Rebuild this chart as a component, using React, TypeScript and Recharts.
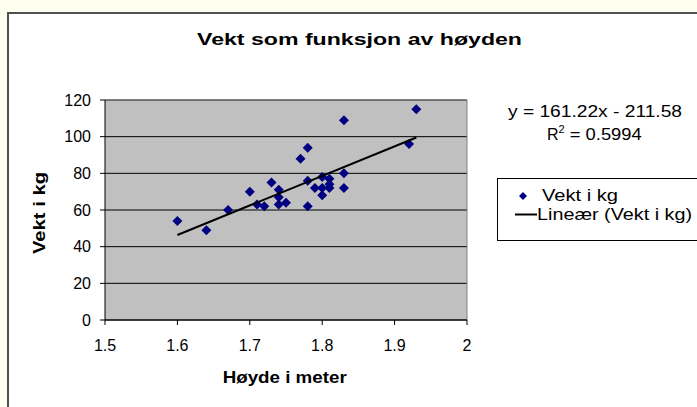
import React from 'react';
import { ScatterChart, Scatter, XAxis, YAxis, CartesianGrid, ReferenceLine, Legend, Customized } from 'recharts';

const heights = [1.6, 1.64, 1.67, 1.7, 1.71, 1.72, 1.73, 1.74, 1.74, 1.74, 1.75, 1.77, 1.78, 1.78, 1.78, 1.79, 1.8, 1.8, 1.8, 1.81, 1.81, 1.81, 1.83, 1.83, 1.83, 1.92, 1.93];
const weights = [54, 49, 60, 70, 63, 62, 75, 71, 67, 63, 64, 88, 94, 76, 62, 72, 78, 72, 68, 77, 74, 72, 109, 80, 72, 96, 115];

const trendX = [1.6, 1.93];
const trendY = [46.37, 99.57];

const xTicks = [1.5, 1.6, 1.7, 1.8, 1.9, 2];
const yTicks = [0, 20, 40, 60, 80, 100, 120];

const titleText = 'Vekt som funksjon av høyden';
const xLabel = 'Høyde i meter';
const yLabel = 'Vekt i kg';
const seriesName = 'Vekt i kg';
const trendName = 'Lineær (Vekt i kg)';
const eqText = 'y = 161.22x - 211.58';
const r2Value = ' = 0.5994';

const FONT = '"Liberation Sans", Arial, sans-serif';

const points = heights.map((h, i) => ({ x: h, y: weights[i] }));
const trend = trendX.map((x, i) => ({ x, y: trendY[i] }));

const Diamond = (props: any) => {
  const { cx, cy } = props;
  if (cx == null || cy == null) return <g />;
  return <path d={`M${cx},${cy - 5}L${cx + 5},${cy}L${cx},${cy + 5}L${cx - 5},${cy}Z`} fill="#000080" />;
};

const NoShape = () => <g />;

const Texts = () => (
  <g fontFamily={FONT}>
    <text x={359.5} y={45} textAnchor="middle" fontSize={16} fontWeight="bold" fill="#000" textLength={325} lengthAdjust="spacingAndGlyphs">{titleText}</text>
    <text x={284.7} y={383} textAnchor="middle" fontSize={16} fontWeight="bold" fill="#000" textLength={124} lengthAdjust="spacingAndGlyphs">{xLabel}</text>
    <text x={45} y={213} transform="rotate(-90 45 213)" textAnchor="middle" fontSize={16} fontWeight="bold" fill="#000" textLength={82} lengthAdjust="spacingAndGlyphs">{yLabel}</text>
    <text x={595} y={117} textAnchor="middle" fontSize={16} fill="#000" textLength={174} lengthAdjust="spacingAndGlyphs">{eqText}</text>
    <text x={547} y={140} fontSize={16} fill="#000">
      <tspan>R</tspan>
      <tspan fontSize={11} dy={-7}>2</tspan>
      <tspan dy={7} textLength={77} lengthAdjust="spacingAndGlyphs">{r2Value}</tspan>
    </text>
  </g>
);

const LegendBox = () => (
  <svg width={200} height={64} style={{ display: 'block', overflow: 'hidden' }}>
    <rect x={0.5} y={0.5} width={230} height={62} fill="#fff" stroke="#000" strokeWidth={1} />
    <path d="M26,14L30,18L26,22L22,18Z" fill="#000080" />
    <text x={45} y={23} fontFamily={FONT} fontSize={16} fill="#000" textLength={76} lengthAdjust="spacingAndGlyphs">{seriesName}</text>
    <line x1={18} x2={40} y1={36.5} y2={36.5} stroke="#000" strokeWidth={2} />
    <text x={40} y={42} fontFamily={FONT} fontSize={16} fill="#000" textLength={155} lengthAdjust="spacingAndGlyphs">{trendName}</text>
  </svg>
);

export default function App() {
  return (
    <div style={{ position: 'absolute', left: 0, top: 0, width: 697, height: 407, overflow: 'hidden', background: '#FFFFF0' }}>
      <div style={{ position: 'absolute', left: 7, top: 12, width: 720, height: 420, borderLeft: '2px solid #505050', borderTop: '2px solid #505050', background: '#fff' }} />
      <div style={{ position: 'absolute', left: 0, top: 0 }}>
        <ScatterChart width={697} height={407} margin={{ top: 100, right: 230, bottom: 0, left: 0 }}>
          <CartesianGrid vertical={false} stroke="#000" fill="#C0C0C0" fillOpacity={1} />
          <XAxis
            type="number"
            dataKey="x"
            domain={[1.5, 2]}
            ticks={xTicks}
            height={87}
            allowDataOverflow
            stroke="#000"
            tickSize={5}
            tickMargin={15}
            tick={{ fontSize: 16, fill: '#000', fontFamily: FONT }}
            tickFormatter={(v: number) => String(v)}
          />
          <YAxis
            type="number"
            dataKey="y"
            domain={[0, 120]}
            ticks={yTicks}
            width={105}
            allowDataOverflow
            stroke="#000"
            tickSize={5}
            tickMargin={9}
            tick={{ fontSize: 16, fill: '#000', fontFamily: FONT }}
          />
          <ReferenceLine y={120} stroke="#808080" strokeWidth={1} />
          <ReferenceLine x={2} stroke="#808080" strokeWidth={1} />
          <Scatter name={seriesName} data={points} shape={Diamond} isAnimationActive={false} />
          <Scatter name={trendName} data={trend} line={{ stroke: '#000', strokeWidth: 2 }} shape={NoShape} legendType="line" isAnimationActive={false} />
          <Legend
            layout="horizontal"
            verticalAlign="middle"
            align="center"
            content={() => <LegendBox />}
            wrapperStyle={{ position: 'absolute', left: 497, top: 178, width: 200, height: 64 }}
          />
          <Customized component={Texts} />
        </ScatterChart>
      </div>
    </div>
  );
}
